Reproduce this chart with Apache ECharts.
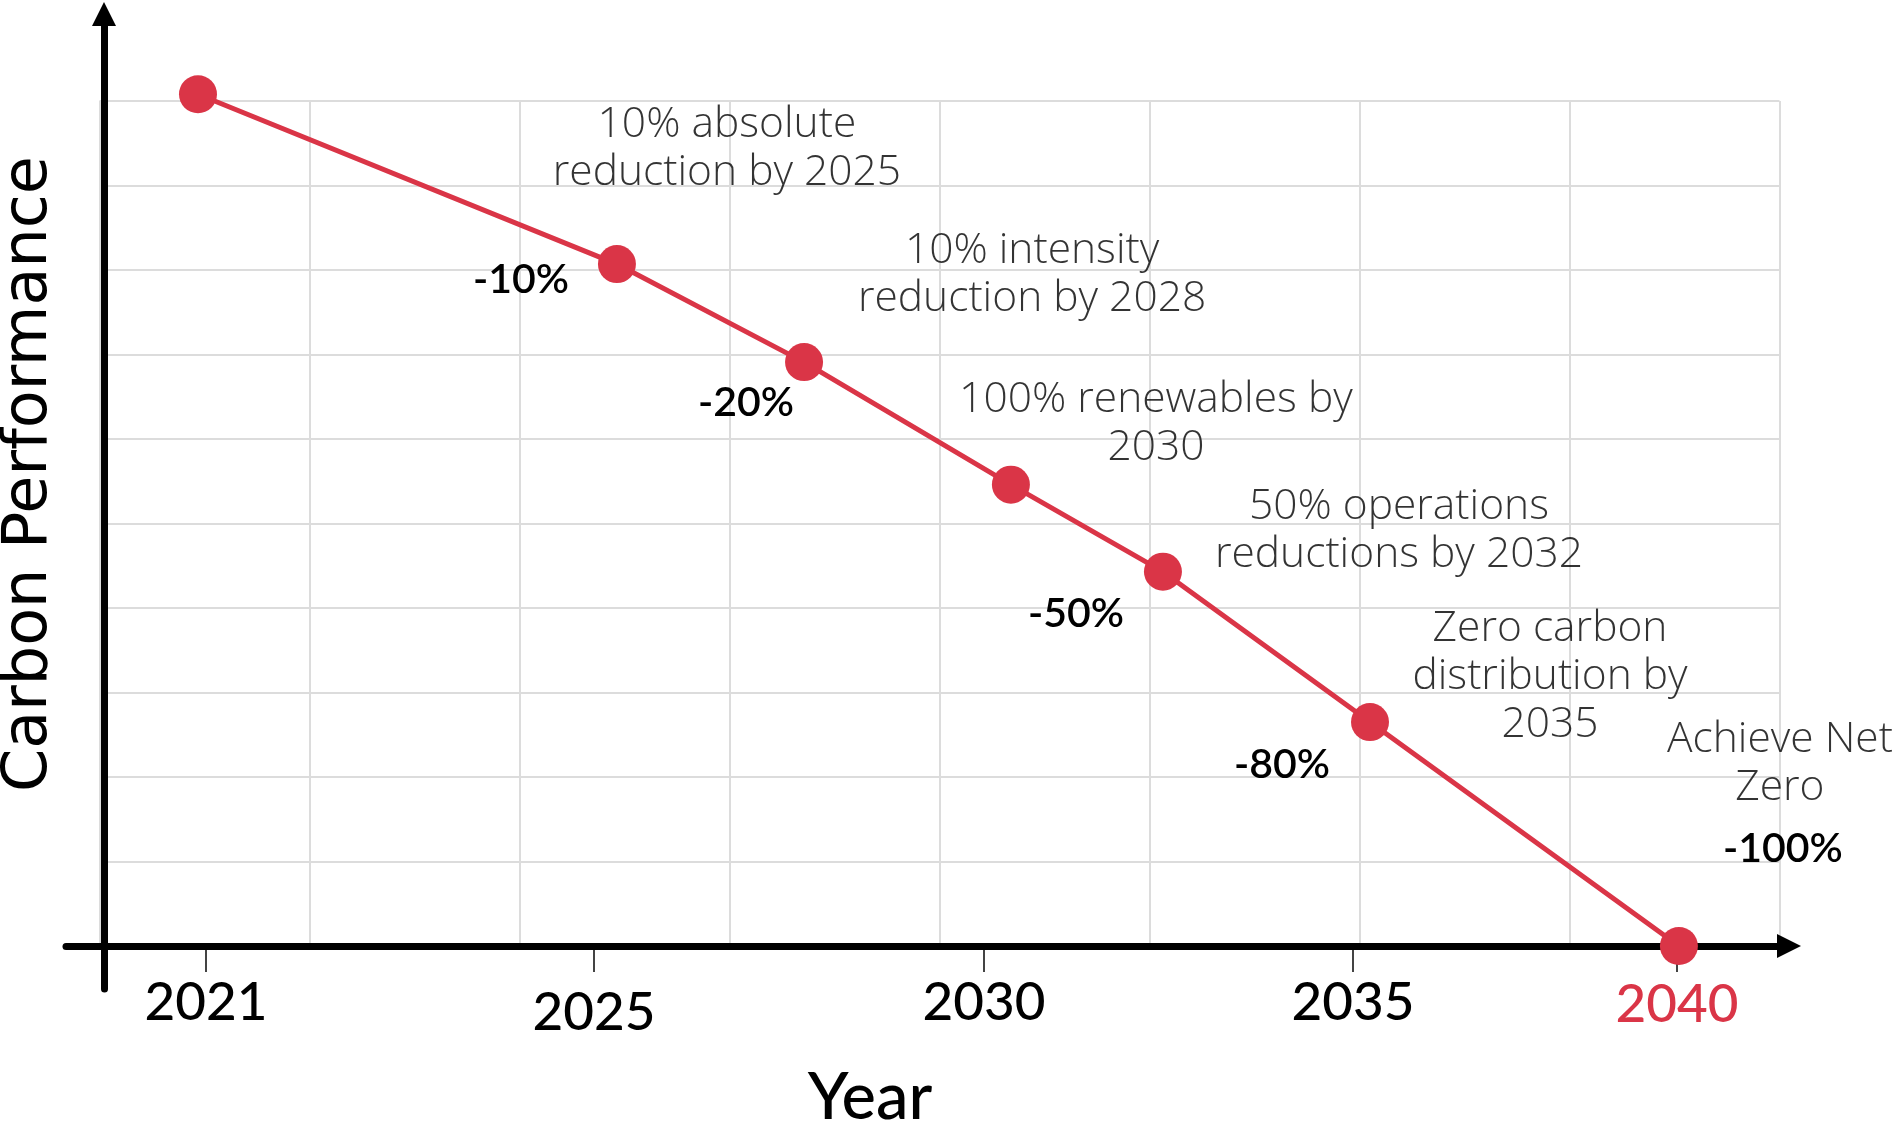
<!DOCTYPE html>
<html><head><meta charset="utf-8">
<script src="https://cdn.jsdelivr.net/npm/echarts@6/dist/echarts.min.js"></script>
<style>html,body{margin:0;padding:0;background:#fff}#c{width:1896px;height:1131px}</style>
</head><body><div id="c"></div>
<script>
// ---- data ----
const years = ['2021', '2025', '2028', '2030', '2032', '2035', '2040'];
// position along the pictorial timeline, in grid columns (0..8)
const timelinePos = [0.469, 2.464, 3.355, 4.340, 5.064, 6.050, 7.521];
// carbon performance, baseline = 100
const carbonPerf = [100.8, 80.7, 69.1, 54.6, 44.3, 26.5, 0];
const reductionLabels = ['', '-10%', '-20%', '', '-50%', '-80%', '-100%'];
const milestones = ['', '10% absolute\nreduction by 2025', '10% intensity\nreduction by 2028',
  '100% renewables by\n2030', '50% operations\nreductions by 2032',
  'Zero carbon\ndistribution by\n2035', 'Achieve Net\nZero'];
const tickYears = ['2021', '2025', '2030', '2035', '2040'];
const tickPos = [0.507, 2.355, 4.212, 5.969, 7.512];
const xAxisTitle = 'Year';
const yAxisTitle = 'Carbon Performance';

// ---- layout (label offsets from each point, px) ----
const pctOffsets = [[0, 0], [-96, 16], [-58, 41], [0, 0], [-87, 42], [-88, 43], [104, -97]];
const msOffsets = [[0, 0], [110, -115], [228, -87], [145, -61], [236, -41], [180, -45], [101, -182]];

const RED = '#DA3547';
const FONT = 'Lato';
const LIGHT_FONT = 'Open Sans';
const chart = echarts.init(document.getElementById('c'));

const axisArrowLine = {
  show: true, onZero: true, symbol: ['none', 'triangle'], symbolSize: [24, 24], symbolOffset: [0, 12],
  lineStyle: { color: '#000', width: 7 }
};
const gridLine = { show: true, lineStyle: { color: '#dcdcdc', width: 2 } };

const option = {
  animation: false,
  backgroundColor: '#fff',
  grid: [
    { left: 99.5, top: 101, width: 1680, height: 845 },
    { left: 66, top: 26, right: 119, bottom: 142 }
  ],
  xAxis: [
    { gridIndex: 0, type: 'value', min: 0, max: 8, interval: 1, position: 'top',
      axisLine: { show: false }, axisTick: { show: false }, axisLabel: { show: false }, splitLine: gridLine },
    { gridIndex: 0, type: 'value', min: 0, max: 8, position: 'bottom',
      axisLine: { show: false }, splitLine: { show: false },
      axisTick: { show: true, customValues: tickPos, length: 26, lineStyle: { color: '#444', width: 2 } },
      axisLabel: {
        show: true, customValues: tickPos, margin: 30,
        formatter: function (v) {
          let i = 0, best = 1e9;
          tickPos.forEach(function (p, k) { if (Math.abs(p - v) < best) { best = Math.abs(p - v); i = k; } });
          const style = i === tickYears.length - 1 ? 'r' : (i === 1 ? 'low' : 'n');
          return '{' + style + '|' + tickYears[i] + '}';
        },
        rich: {
          n: { fontFamily: FONT, fontSize: 53, fontWeight: 500, color: '#000', lineHeight: 53 },
          low: { fontFamily: FONT, fontSize: 53, fontWeight: 500, color: '#000', lineHeight: 73 },
          r: { fontFamily: FONT, fontSize: 53, fontWeight: 500, color: RED, lineHeight: 57 }
        }
      } },
    { gridIndex: 1, type: 'value', min: -38, max: 1673, z: 3,
      axisLine: axisArrowLine, axisTick: { show: false }, axisLabel: { show: false }, splitLine: { show: false } }
  ],
  yAxis: [
    { gridIndex: 0, type: 'value', min: 0, max: 100, interval: 10,
      axisLine: { show: false }, axisTick: { show: false }, axisLabel: { show: false }, splitLine: gridLine },
    { gridIndex: 1, type: 'value', min: -43, max: 920, z: 3,
      axisLine: axisArrowLine, axisTick: { show: false }, axisLabel: { show: false }, splitLine: { show: false } }
  ],
  series: [
    {
      type: 'line', xAxisIndex: 0, yAxisIndex: 0, z: 5, clip: false,
      symbol: 'circle', symbolSize: 38,
      lineStyle: { color: RED, width: 5 }, itemStyle: { color: RED },
      data: timelinePos.map(function (x, i) {
        return { name: years[i], value: [x, carbonPerf[i]], label: { offset: pctOffsets[i] } };
      }),
      label: {
        show: true, position: 'inside', formatter: function (p) { return reductionLabels[p.dataIndex]; },
        fontFamily: FONT, fontSize: 41, fontWeight: 600, color: '#000', textBorderWidth: 0
      },
      emphasis: { disabled: true }
    },
    {
      type: 'scatter', xAxisIndex: 0, yAxisIndex: 0, z: 4, silent: true, clip: false,
      symbolSize: 1, itemStyle: { color: 'rgba(0,0,0,0)' },
      data: timelinePos.map(function (x, i) {
        return { name: years[i], value: [x, carbonPerf[i]], label: { offset: msOffsets[i] } };
      }),
      label: {
        show: true, position: 'inside', formatter: function (p) { return milestones[p.dataIndex]; },
        fontFamily: LIGHT_FONT, fontSize: 42.5, fontWeight: 300, lineHeight: 48, color: '#000',
        align: 'center', verticalAlign: 'middle', textBorderWidth: 0
      },
      emphasis: { disabled: true }
    }
  ],
  graphic: [
    { type: 'text', x: 870, y: 1098, z: 10,
      style: { text: xAxisTitle, fontFamily: FONT, fontSize: 65, fontWeight: 500, fill: '#000',
        align: 'center', verticalAlign: 'middle', textAlign: 'center', textVerticalAlign: 'middle' } },
    { type: 'text', x: 30, y: 474, rotation: Math.PI / 2, z: 10,
      style: { text: yAxisTitle, fontFamily: 'DejaVu Sans', fontSize: 62, fill: '#000',
        align: 'center', verticalAlign: 'middle', textAlign: 'center', textVerticalAlign: 'middle' } }
  ]
};
chart.setOption(option);
</script>
</body></html>
